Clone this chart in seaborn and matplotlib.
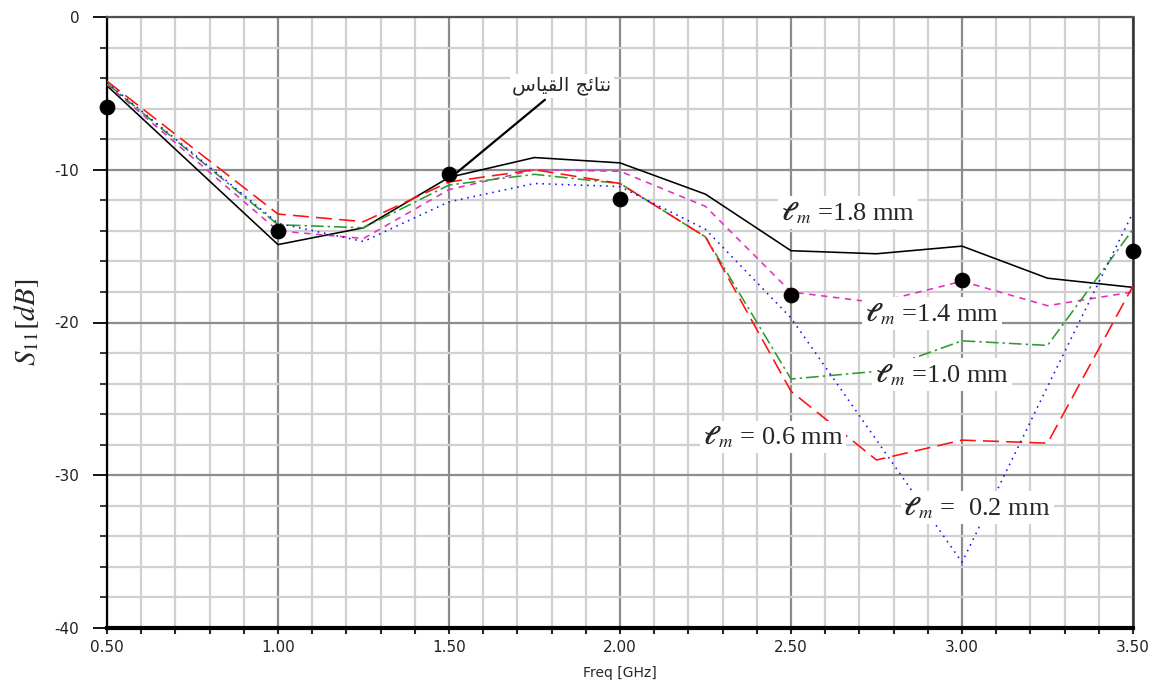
import numpy as np
import pandas as pd
import matplotlib
matplotlib.use("Agg")
import matplotlib.pyplot as plt
from matplotlib.ticker import MultipleLocator, FormatStrFormatter
import seaborn as sns

# ---------------- data ----------------
freq = [0.5, 1.0, 1.25, 1.5, 1.75, 2.0, 2.25, 2.5, 2.75, 3.0, 3.25, 3.5]
s11_18 = [-4.5, -14.9, -13.8, -10.5, -9.2, -9.55, -11.6, -15.3, -15.5, -15.0, -17.1, -17.7]
s11_14 = [-4.4, -14.0, -14.5, -11.3, -10.0, -10.1, -12.4, -18.0, -18.7, -17.3, -18.9, -18.0]
s11_10 = [-4.35, -13.6, -13.8, -11.0, -10.3, -10.9, -14.4, -23.7, -23.2, -21.2, -21.5, -13.9]
s11_06 = [-4.2, -12.9, -13.4, -10.8, -10.0, -10.9, -14.4, -24.5, -29.0, -27.7, -27.9, -17.6]
s11_02 = [-4.3, -13.5, -14.7, -12.1, -10.9, -11.1, -13.9, -19.7, -27.7, -35.7, -24.2, -12.8]
series_names = ["1.8", "1.4", "1.0", "0.6", "0.2"]

meas_freq = [0.5, 1.0, 1.5, 2.0, 2.5, 3.0, 3.5]
meas_s11 = [-5.9, -14.0, -10.3, -11.9, -18.2, -17.2, -15.3]

xticks = [0.5, 1.0, 1.5, 2.0, 2.5, 3.0, 3.5]
yticks = [0, -10, -20, -30, -40]

label_texts = [r"$\mathbf{\ell}_{\,m}$ =1.8 mm", r"$\mathbf{\ell}_{\,m}$ =1.4 mm",
               r"$\mathbf{\ell}_{\,m}$ =1.0 mm", r"$\mathbf{\ell}_{\,m}$ = 0.6 mm",
               r"$\mathbf{\ell}_{\,m}$ =  0.2 mm"]
label_pos = [(2.667, -12.8), (2.912, -19.4), (2.941, -23.4), (2.447, -27.5), (3.044, -32.1)]

# "نتائج القياس" written in presentation forms, visual order (matplotlib has no Arabic shaping)
arabic_label = "\uFEB1\uFE8E\uFEF4\uFED8\uFEDF\uFE8D \uFE9E\uFE8B\uFE8E\uFE98\uFEE7"

# ---------------- style ----------------
sns.set_style("white")
plt.rcParams["font.family"] = ["DejaVu Sans"]
plt.rcParams["mathtext.fontset"] = "stix"
plt.rcParams["axes.unicode_minus"] = False

df = pd.DataFrame({
    "freq": freq * 5,
    "s11": s11_18 + s11_14 + s11_10 + s11_06 + s11_02,
    "lm": sum([[n] * len(freq) for n in series_names], []),
})

palette = {"1.8": "#000000", "1.4": "#e030c0", "1.0": "#2f9a2f", "0.6": "#ff1010", "0.2": "#1010ff"}
dashes = {"1.8": "", "1.4": (4, 3.5), "1.0": (8, 2.5, 1.5, 2.5), "0.6": (10, 4.5), "0.2": (1, 3)}

fig = plt.figure(figsize=(11.51, 6.88), dpi=100)
ax = fig.add_axes([107 / 1151, 60 / 688, 1026 / 1151, 611 / 688])

sns.lineplot(data=df, x="freq", y="s11", hue="lm", style="lm", palette=palette,
             dashes=dashes, linewidth=1.15, legend=False, ax=ax, zorder=3)
sns.scatterplot(x=meas_freq, y=meas_s11, color="black", s=110, marker="o",
                edgecolor="black", zorder=6, clip_on=False, ax=ax)

ax.set_xlim(0.5, 3.5)
ax.set_ylim(-40, 0)
ax.set_xticks(xticks)
ax.set_yticks(yticks)
ax.xaxis.set_major_formatter(FormatStrFormatter("%.2f"))
ax.xaxis.set_minor_locator(MultipleLocator(0.1))
ax.yaxis.set_minor_locator(MultipleLocator(2))

ax.set_axisbelow(True)
ax.grid(which="minor", color="#d0d0d0", linewidth=1.6)
ax.grid(which="major", color="#8c8c8c", linewidth=1.6)

ax.tick_params(axis="y", which="major", length=10, width=1.3, direction="out", pad=10,
               labelsize=11, colors="black", left=True)
ax.tick_params(axis="y", which="minor", length=5, width=1.3, direction="out", left=True)
ax.tick_params(axis="x", which="both", length=4, width=1.5, direction="out", pad=5,
               labelsize=11, bottom=True)
for lab in ax.get_xticklabels() + ax.get_yticklabels():
    lab.set_color("#222222")

for side, col, lw in [("left", "black", 1.6), ("bottom", "black", 3.0),
                      ("top", "#505050", 1.6), ("right", "#303030", 1.8)]:
    ax.spines[side].set_visible(True)
    ax.spines[side].set_color(col)
    ax.spines[side].set_linewidth(lw)

ax.set_xlabel("Freq [GHz]", fontsize=10)
ax.xaxis.set_label_coords(0.5, -0.063)
ax.set_ylabel(r"$S_{11}[dB]$", fontsize=21)
ax.yaxis.set_label_coords(-0.064, 0.5)

for txt, (x, y) in zip(label_texts, label_pos):
    ax.text(x, y, txt, fontsize=19, family="Liberation Serif", ha="center", va="center",
            zorder=5, bbox=dict(facecolor="white", edgecolor="none", pad=2))

ax.annotate(arabic_label, xy=(1.525, -10.15), xytext=(1.83, -4.5),
            fontsize=14, family="DejaVu Sans", ha="center", va="center", zorder=7,
            bbox=dict(facecolor="white", edgecolor="none", pad=2),
            arrowprops=dict(arrowstyle="-", color="black", lw=1.6, shrinkA=2, shrinkB=0))

fig.savefig("out.png", dpi=100)
